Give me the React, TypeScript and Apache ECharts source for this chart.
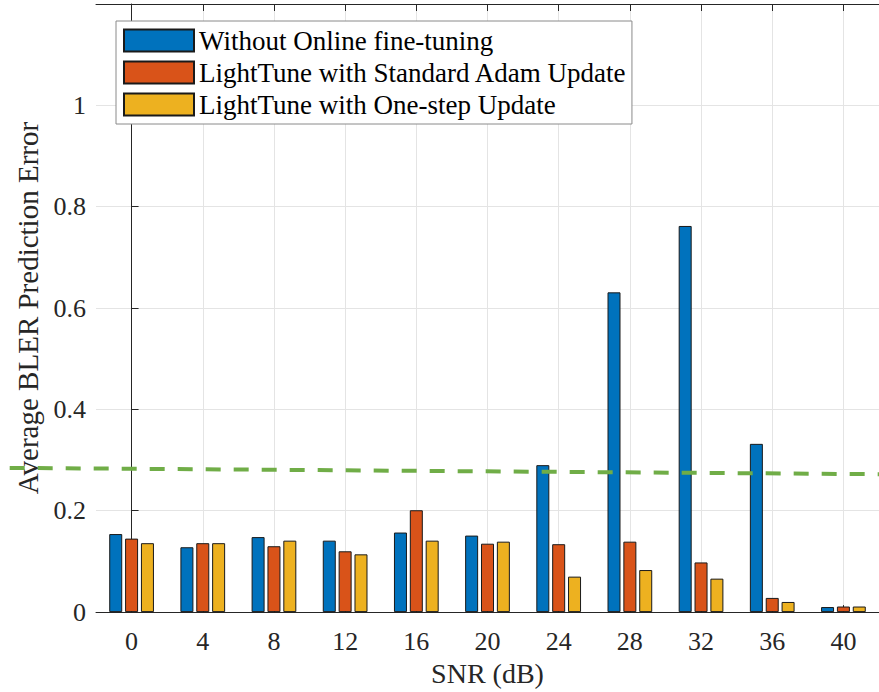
import React, { useEffect, useRef } from "react";
import * as echarts from "echarts";

const categories = ["0", "4", "8", "12", "16", "20", "24", "28", "32", "36", "40"];
const snrValues = [0, 4, 8, 12, 16, 20, 24, 28, 32, 36, 40];
const seriesNames = [
  "Without Online fine-tuning",
  "LightTune with Standard Adam Update",
  "LightTune with One-step Update",
];
const withoutFineTuning = [0.154, 0.128, 0.148, 0.141, 0.157, 0.151, 0.29, 0.631, 0.762, 0.332, 0.01];
const adamUpdate = [0.145, 0.136, 0.13, 0.12, 0.201, 0.135, 0.134, 0.139, 0.098, 0.028, 0.011];
const oneStepUpdate = [0.136, 0.136, 0.141, 0.114, 0.141, 0.139, 0.07, 0.083, 0.066, 0.02, 0.011];
const thresholdX = [-6.85, 42.6];
const thresholdY = [0.2846, 0.272];
const yTicks = { min: 0, max: 1.2, interval: 0.2 };

const colors = ["#0072BD", "#D95319", "#EDB120"];
const FONT = "Liberation Serif";
const AXIS = "#262626";
const GRID = "#e4e4e4";

export default function App() {
  const ref = useRef<HTMLDivElement>(null);
  useEffect(() => {
    if (!ref.current) return;
    const chart = echarts.init(ref.current, undefined, { renderer: "svg" });
    const values = [withoutFineTuning, adamUpdate, oneStepUpdate];
    const option: any = {
      animation: false,
      backgroundColor: "#fff",
      textStyle: { fontFamily: FONT },
      grid: { left: 96, top: 4, width: 793, height: 614, containLabel: false },
      legend: {
        data: seriesNames,
        orient: "vertical",
        left: 116,
        top: 21,
        icon: "rect",
        itemWidth: 70,
        itemHeight: 22,
        itemGap: 5,
        padding: [6, 5, 6, 7],
        backgroundColor: "#fff",
        borderColor: "#8a8a8a",
        borderWidth: 1,
        textStyle: { fontFamily: FONT, fontSize: 27, color: "#000" },
      },
      xAxis: [
        {
          type: "category",
          data: categories,
          position: "bottom",
          axisLine: { show: true, lineStyle: { color: AXIS, width: 1 } },
          axisTick: { show: true, inside: true, alignWithLabel: true, length: 7, lineStyle: { color: AXIS } },
          axisLabel: { fontFamily: FONT, fontSize: 26, color: AXIS, margin: 16 },
          splitLine: { show: false },
          name: "SNR (dB)",
          nameLocation: "middle",
          nameGap: 43,
          nameTextStyle: { fontFamily: FONT, fontSize: 28, color: AXIS },
        },
        {
          type: "value",
          position: "top",
          min: -2,
          max: 42,
          axisLine: { show: true, onZero: false, lineStyle: { color: AXIS, width: 1 } },
          axisTick: { show: true, inside: true, length: 7, customValues: snrValues, lineStyle: { color: AXIS } },
          axisLabel: { show: false, customValues: snrValues },
          splitLine: { show: true, lineStyle: { color: GRID, width: 1 } },
        },
      ],
      yAxis: {
        type: "value",
        min: yTicks.min,
        max: yTicks.max,
        interval: yTicks.interval,
        axisLine: { show: true, lineStyle: { color: AXIS, width: 1 } },
        axisTick: { show: true, inside: true, length: 7, lineStyle: { color: AXIS } },
        axisLabel: { fontFamily: FONT, fontSize: 26, color: AXIS, margin: 10, showMaxLabel: false },
        splitLine: { show: true, lineStyle: { color: GRID, width: 1 } },
        name: "Average BLER Prediction Error",
        nameLocation: "middle",
        nameGap: 46,
        nameTextStyle: { fontFamily: FONT, fontSize: 29, color: AXIS },
      },
      series: seriesNames.map((name, i) => ({
        name,
        type: "bar",
        xAxisIndex: 0,
        yAxisIndex: 0,
        data: values[i],
        barWidth: 13,
        barGap: "22%",
        itemStyle: { color: colors[i], borderColor: "#1a1a1a", borderWidth: 1 },
      })),
    };
    chart.setOption(option);
    // threshold line placed through the chart's own coordinate system (it runs past the axes)
    const p1 = chart.convertToPixel({ xAxisIndex: 1, yAxisIndex: 0 } as any, [thresholdX[0], thresholdY[0]]) as number[];
    const p2 = chart.convertToPixel({ xAxisIndex: 1, yAxisIndex: 0 } as any, [thresholdX[1], thresholdY[1]]) as number[];
    chart.setOption({
      graphic: [
        {
          type: "line",
          silent: true,
          z: 100,
          shape: { x1: p1[0], y1: p1[1], x2: p2[0], y2: p2[1] },
          style: { stroke: "#70AD47", lineWidth: 4, lineDash: [15, 13] },
        },
      ],
    });
    return () => chart.dispose();
  }, []);
  return (
    <div
      ref={ref}
      style={{ position: "fixed", left: 0, top: 0, width: 879, height: 692, background: "#fff" }}
    />
  );
}
